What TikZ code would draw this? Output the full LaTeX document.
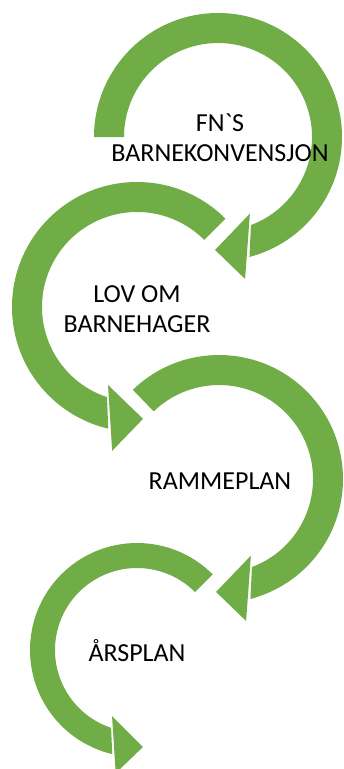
\documentclass[tikz,border=0pt]{standalone}
\usepackage{fontspec}
\setmainfont{Carlito}[Ligatures=TeXOff]
\definecolor{arrowgreen}{HTML}{70AD47}

\begin{document}
\begin{tikzpicture}[x=1pt, y=1pt,
    band/.style={fill=arrowgreen},
    steplabel/.style={align=center, text=black, inner sep=0pt,
      font=\fontsize{26}{30}\selectfont}]
    \useasboundingbox (0,0) rectangle (344,-769);
    \coordinate (c1) at (218,-137);
    \coordinate (c2) at (137,-307);
    \coordinate (c3) at (219,-479);
    \coordinate (c4) at (137,-650);
    % arrow 1:
    \fill [band] ([shift={(c1)}]180:124) arc [start angle=180, end angle=-75.3, radius=124]
      -- ([shift={(c1)}]-69.5:94) arc [start angle=-69.5, end angle=180, radius=94] -- cycle;
    \fill [band] ([shift={(c1)}]-67.4:83) -- ([shift={(c1)}]-91.5:113) -- ([shift={(c1)}]-79.2:144.5) -- cycle;
    % arrow 2:
    \fill [band] ([shift={(c2)}]45:125) arc [start angle=45, end angle=256.7, radius=125]
      -- ([shift={(c2)}]251.6:95) arc [start angle=251.6, end angle=45, radius=95] -- cycle;
    \fill [band] ([shift={(c2)}]249.6:83.2) -- ([shift={(c2)}]273.1:112) -- ([shift={(c2)}]260.2:146) -- cycle;
    % arrow 3:
    \fill [band] ([shift={(c3)}]134:124) arc [start angle=134, end angle=-75.3, radius=124]
      -- ([shift={(c3)}]-69.5:94) arc [start angle=-69.5, end angle=134, radius=94] -- cycle;
    \fill [band] ([shift={(c3)}]-67.4:83) -- ([shift={(c3)}]-91.5:113) -- ([shift={(c3)}]-79.2:144.5) -- cycle;
    % arrow 4:
    \fill [band] ([shift={(c4)}]45:107) arc [start angle=45, end angle=256.6, radius=107]
      -- ([shift={(c4)}]251.6:82) arc [start angle=251.6, end angle=45, radius=82] -- cycle;
    \fill [band] ([shift={(c4)}]249.3:70.6) -- ([shift={(c4)}]273.5:97.2) -- ([shift={(c4)}]260.2:125) -- cycle;
    % labels:
    \node [steplabel] (fns) at (220,-137.5) {FN`S\\BARNEKONVENSJON};
    \node [steplabel] (lov) at (137,-309) {LOV OM\\BARNEHAGER};
    \node [steplabel, anchor=base] (ramme) at (220,-489) {RAMMEPLAN};
    \node [steplabel, anchor=base] (aars) at (137,-661) {ÅRSPLAN};
\end{tikzpicture}
\end{document}
